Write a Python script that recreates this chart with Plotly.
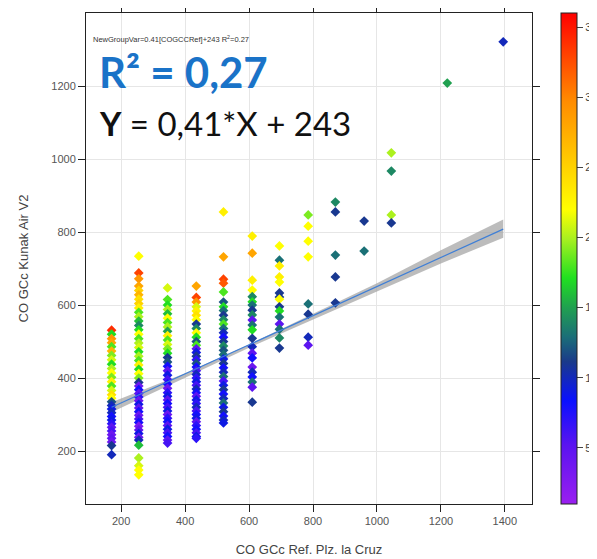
import plotly.graph_objects as go

# ---- data ----
col_x = [170, 255, 345, 435, 520, 610, 695, 785, 870, 960, 1045, 1220, 1395]

col_y = [
    [531, 520, 508, 497, 486, 474, 462, 450, 438, 426, 414, 402, 390, 378, 366, 354, 345,
     335, 325, 315, 305, 295, 285, 275, 265, 255, 245, 235, 225, 215, 190],
    [734, 688, 672, 652, 640, 628, 616, 604, 592, 580, 568, 556, 544, 532, 520, 508, 496,
     484, 472, 460, 448, 436, 424, 412, 400, 388, 378, 368, 358, 348, 338, 328, 318, 308,
     298, 288, 278, 268, 258, 248, 238, 230, 216, 181, 160, 148, 135],
    [647, 615, 600, 588, 576, 564, 552, 540, 528, 516, 504, 492, 480, 468, 456, 444, 432,
     420, 408, 396, 384, 372, 360, 350, 340, 330, 320, 310, 300, 290, 280, 270, 260, 250,
     240, 230, 222],
    [652, 621, 608, 595, 584, 572, 560, 548, 536, 524, 512, 500, 490, 480, 470, 460, 450,
     440, 430, 420, 410, 400, 390, 380, 370, 360, 350, 340, 330, 320, 310, 300, 290, 280,
     270, 260, 250, 240, 235],
    [855, 732, 671, 660, 636, 608, 595, 585, 572, 560, 548, 536, 524, 512, 500, 488, 476,
     464, 452, 440, 428, 416, 404, 392, 380, 368, 356, 344, 332, 320, 308, 296, 285, 277],
    [789, 742, 668, 641, 623, 609, 600, 586, 573, 559, 545, 532, 509, 486, 468, 455, 430,
     416, 403, 389, 375, 334],
    [762, 723, 707, 677, 663, 633, 622, 616, 595, 584, 567, 548, 534, 510, 482],
    [847, 816, 775, 732, 603, 575, 512, 490],
    [882, 855, 737, 677, 606],
    [830, 748],
    [1017, 967, 847, 825],
    [1208],
    [1321],
]

col_z = [
    [34, 17, 29, 28, 18, 27, 19, 21, 17, 20, 22, 19, 23, 18, 21, 24, 22,
     12, 10, 9, 10, 8, 9, 7, 5, 6, 4, 5, 4, 11, 10],
    [22, 33, 29, 28, 25, 27, 24, 25, 23, 18, 20, 16, 14, 17, 22, 18, 20,
     21, 17, 20, 18, 23, 17, 22, 19, 11, 4, 8, 5, 7, 4, 9, 5, 8,
     4, 6, 8, 3, 5, 9, 4, 10, 16, 20, 21, 22, 22],
    [21, 18, 17, 20, 16, 22, 18, 20, 15, 23, 18, 21, 19, 17, 11, 12, 8,
     5, 9, 6, 8, 4, 7, 9, 5, 8, 6, 9, 4, 7, 8, 5, 9, 6,
     8, 5, 6],
    [28, 33, 29, 21, 23, 24, 22, 11, 14, 22, 17, 12, 18, 5, 9, 11, 7,
     12, 8, 6, 10, 7, 9, 6, 10, 8, 5, 9, 7, 10, 6, 8, 9, 5,
     7, 8, 6, 9, 7],
    [23, 28, 33, 32, 18, 12, 17, 13, 11, 14, 18, 13, 10, 8, 11, 14, 12,
     13, 9, 11, 8, 10, 13, 6, 9, 11, 8, 10, 13, 9, 11, 8, 10, 9],
    [23, 28, 23, 22, 14, 17, 13, 11, 14, 5, 13, 17, 11, 10, 5, 8, 4,
     10, 8, 13, 5, 11],
    [22, 13, 23, 23, 22, 11, 11, 22, 11, 17, 13, 5, 13, 14, 11],
    [19, 22, 22, 22, 13, 11, 10, 5],
    [14, 11, 13, 11, 11],
    [11, 13],
    [20, 14, 20, 11],
    [15],
    [10],
]

fit_x = [170, 1395]
fit_y = [320, 808]

band_x = [170, 400, 600, 800, 1000, 1200, 1395]
band_lo = [306, 401, 483, 561, 637, 714, 784]
band_hi = [334, 413, 492, 575, 660, 750, 834]

x_ticks = [200, 400, 600, 800, 1000, 1200, 1400]
y_ticks = [200, 400, 600, 800, 1000, 1200]
cb_ticks = [5, 10, 15, 20, 25, 30, 35]

# ---- build ----
xs, ys, zs = [], [], []
for cx, yl, zl in zip(col_x, col_y, col_z):
    for yv, zv in zip(yl, zl):
        xs.append(cx)
        ys.append(yv)
        zs.append(zv)

colorscale = [
    [0.00, "#9A1FF0"],
    [0.12, "#5A14F0"],
    [0.21, "#0A10FF"],
    [0.29, "#1A3A8A"],
    [0.34, "#1A6E78"],
    [0.40, "#20A050"],
    [0.46, "#20E020"],
    [0.54, "#A8F020"],
    [0.60, "#FFFF00"],
    [0.72, "#FFC000"],
    [0.82, "#FF8C00"],
    [1.00, "#FF0000"],
]

# the page body adds an 8px offset; margins compensate for it
OFF = 8
L, R, T, B = 86 - OFF, 597 - (532 - OFF), 13 - OFF, 559 - (504 - OFF)
PW = 597 - L - R
PH = 559 - T - B


def px_x(p):
    return (p - OFF - L) / PW


def px_y(p):
    return (559 - B - (p - OFF)) / PH


fig = go.Figure()

fig.add_trace(go.Scatter(
    x=band_x + band_x[::-1], y=band_hi + band_lo[::-1],
    fill="toself", fillcolor="rgba(160,160,160,0.7)",
    line=dict(width=0), mode="lines", hoverinfo="skip", showlegend=False,
))

fig.add_trace(go.Scatter(
    x=xs, y=ys, mode="markers",
    marker=dict(symbol="diamond", size=7.5, color=zs, colorscale=colorscale,
                cmin=1, cmax=36, line=dict(width=0),
                colorbar=dict(
                    x=px_x(561), xanchor="left", xpad=0, y=0.5, yanchor="middle",
                    len=1.0, lenmode="fraction", ypad=0, thickness=16,
                    outlinewidth=1, outlinecolor="#222",
                    tickvals=cb_ticks, ticks="outside", ticklen=6,
                    tickcolor="#444", tickfont=dict(size=11, color="#444",
                                                    family="Liberation Sans"),
                )),
    showlegend=False,
))

fig.add_trace(go.Scatter(
    x=fit_x, y=fit_y, mode="lines",
    line=dict(color="#3F7FD6", width=1.2), showlegend=False,
))

axis_common = dict(
    showgrid=True, gridcolor="#E6E6E6", gridwidth=1,
    showline=True, linecolor="#222", linewidth=1, mirror="ticks",
    ticks="outside", ticklen=7, tickcolor="#222",
    tickfont=dict(size=11, color="#555", family="Liberation Sans"),
    zeroline=False,
)

fig.update_layout(
    width=597, height=559,
    margin=dict(l=L, r=R, t=T, b=B, autoexpand=False),
    plot_bgcolor="white", paper_bgcolor="white",
    xaxis=dict(range=[90, 1485], tickvals=x_ticks,
               title=dict(text="CO GCc Ref. Plz. la Cruz", standoff=18,
                          font=dict(size=13, color="#444", family="Liberation Sans")),
               **axis_common),
    yaxis=dict(range=[55, 1400], tickvals=y_ticks,
               title=dict(text="CO GCc Kunak Air V2", standoff=19,
                          font=dict(size=13, color="#444", family="Liberation Sans")),
               **axis_common),
    annotations=[
        dict(x=px_x(91), y=px_y(39), xref="paper", yref="paper",
             xanchor="left", yanchor="middle", showarrow=False,
             text="NewGroupVar=0.41[COGCCRef]+243 R<sup>2</sup>=0.27",
             font=dict(size=7.5, color="#333", family="Liberation Sans")),
        dict(x=px_x(97), y=px_y(72), xref="paper", yref="paper",
             xanchor="left", yanchor="middle", showarrow=False,
             text="<b>R² = 0,27</b>",
             font=dict(size=42, color="#1A73C8", family="Lato")),
        dict(x=px_x(97), y=px_y(123), xref="paper", yref="paper",
             xanchor="left", yanchor="middle", showarrow=False,
             text="<b>Y</b> = 0,41*X + 243",
             font=dict(size=33, color="#111", family="Lato")),
    ],
)

fig.write_html("out.html")
